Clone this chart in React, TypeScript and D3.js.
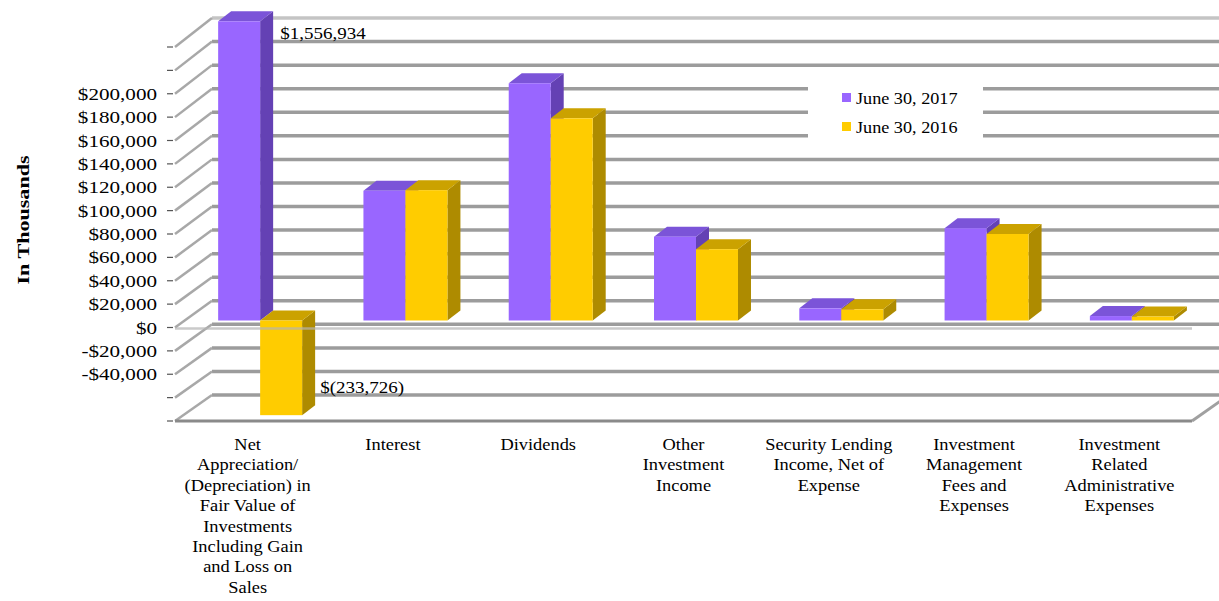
import React from "react";
import * as d3 from "d3";

const categories: string[][] = [
  ["Net", "Appreciation/", "(Depreciation) in", "Fair Value of", "Investments", "Including Gain", "and Loss on", "Sales"],
  ["Interest"],
  ["Dividends"],
  ["Other", "Investment", "Income"],
  ["Security Lending", "Income, Net of", "Expense"],
  ["Investment", "Management", "Fees and", "Expenses"],
  ["Investment", "Related", "Administrative", "Expenses"],
];
const seriesNames = ["June 30, 2017", "June 30, 2016"];
const values2017 = [1556934, 111000, 203000, 71700, 10400, 79000, 3800];
const values2016 = [-233726, 111500, 173000, 61000, 9600, 74000, 3400];
const tickValues = d3.range(-80000, 240001, 20000);
const labeledMin = -40000;
const labeledMax = 200000;
const barCap: [number, number] = [-81000, 256000];

const W = 1219;
const H = 601;
const FRONT_LEFT = 175;
const FRONT_RIGHT = 1192;
const WALL_DX = 37;
const WALL_DY_BOTTOM = -26;
const WALL_DY_TOP = -29;
const BAR_OFF_DX = 12.5;
const BAR_OFF_DY = -7;
const BAR_DX = 13;
const BAR_DY = -10;

const faceColors = [
  { front: "#9966FF", side: "#6441B4", top: "#7B54D8" },
  { front: "#FFCC00", side: "#AE8B00", top: "#CBA200" },
];

const fmt = (v: number) => (v < 0 ? "-$" : "$") + d3.format(",")(Math.abs(v));

export default function App() {
  const y = d3.scaleLinear().domain([-80000, 240000]).range([421, 47]);
  const wallDy = d3.scaleLinear().domain([-80000, 240000]).range([WALL_DY_BOTTOM, WALL_DY_TOP]);
  const x0 = d3
    .scaleBand<number>()
    .domain(categories.map((_, i) => i))
    .range([FRONT_LEFT, FRONT_RIGHT])
    .paddingInner(0)
    .paddingOuter(0);
  const x1 = d3
    .scaleBand<number>()
    .domain([0, 1])
    .range([0, x0.bandwidth()])
    .paddingInner(0)
    .paddingOuter(0.73);
  const seriesValues = [values2017, values2016];
  const clamp = (v: number) => Math.max(barCap[0], Math.min(barCap[1], v));

  const bars: JSX.Element[] = [];
  categories.forEach((_, ci) => {
    seriesValues.forEach((vals, si) => {
      const v = clamp(vals[ci]);
      const xl = (x0(ci) as number) + (x1(si) as number) + BAR_OFF_DX;
      const xr = xl + x1.bandwidth();
      const yv = y(v) + BAR_OFF_DY;
      const y0 = y(0) + BAR_OFF_DY;
      const yt = Math.min(yv, y0);
      const yb = Math.max(yv, y0);
      const c = faceColors[si];
      bars.push(
        <g key={`b${ci}-${si}`}>
          <polygon
            points={`${xr},${yt} ${xr + BAR_DX},${yt + BAR_DY} ${xr + BAR_DX},${yb + BAR_DY} ${xr},${yb}`}
            fill={c.side}
          />
          <polygon
            points={`${xl},${yt} ${xl + BAR_DX},${yt + BAR_DY} ${xr + BAR_DX},${yt + BAR_DY} ${xr},${yt}`}
            fill={c.top}
          />
          <rect x={xl} y={yt} width={xr - xl} height={yb - yt} fill={c.front} />
        </g>
      );
    });
  });

  const bigBarX = (x0(0) as number) + (x1(0) as number) + BAR_OFF_DX + x1.bandwidth() + BAR_DX;
  const negBarX = (x0(0) as number) + (x1(1) as number) + BAR_OFF_DX + x1.bandwidth() + BAR_DX;
  const floorY = y(-80000);

  return (
    <svg width={W} height={H} style={{ position: "absolute", left: 0, top: 0, background: "#fff" }}
      fontFamily="'Liberation Serif', 'Times New Roman', serif">
      {/* back wall gridlines and side wall diagonals */}
      {tickValues.map((t, i) => {
        const yf = y(t);
        const yb = yf + wallDy(t);
        const col = i === tickValues.length - 1 ? "#c4c4c4" : "#9c9c9c";
        return (
          <g key={`g${t}`}>
            <line x1={FRONT_LEFT + WALL_DX} x2={FRONT_RIGHT + WALL_DX} y1={yb} y2={yb} stroke={col} strokeWidth={3.5} />
            <line x1={FRONT_LEFT} y1={yf} x2={FRONT_LEFT + WALL_DX} y2={yb} stroke="#a8a8a8" strokeWidth={2.5} />
            <line x1={FRONT_LEFT - 8} x2={FRONT_LEFT - 2} y1={yf} y2={yf} stroke="#555" strokeWidth={1.2} />
          </g>
        );
      })}
      {/* floor front edge */}
      <line x1={FRONT_LEFT} x2={FRONT_RIGHT} y1={floorY} y2={floorY} stroke="#8a8a8a" strokeWidth={3} />
      <line x1={FRONT_RIGHT} y1={floorY} x2={FRONT_RIGHT + WALL_DX} y2={floorY + WALL_DY_BOTTOM} stroke="#a0a0a0" strokeWidth={3} />
      {bars}
      {/* zero line in front */}
      <line x1={FRONT_LEFT} x2={FRONT_RIGHT} y1={y(0) + 1} y2={y(0) + 1} stroke="#b5b5b5" strokeWidth={2.5} opacity={0.7} />

      {/* y tick labels */}
      {tickValues
        .filter((t) => t >= labeledMin && t <= labeledMax)
        .map((t) => (
          <text key={`t${t}`} transform={`translate(157,${y(t) + 6}) scale(1.28,1)`} textAnchor="end" fontSize={16.5} fill="#000">
            {fmt(t)}
          </text>
        ))}

      {/* axis title */}
      <text transform={`translate(29,220) rotate(-90) scale(1.3,1)`} textAnchor="middle" fontSize={17} fontWeight="bold" fill="#000">
        In Thousands
      </text>

      {/* category labels */}
      {categories.map((lines, ci) => (
        <g key={`c${ci}`}>
          {lines.map((ln, li) => (
            <text key={li} transform={`translate(${(x0(ci) as number) + x0.bandwidth() / 2},${450 + li * 20.4}) scale(1.15,1)`}
              textAnchor="middle" fontSize={16} fill="#000">
              {ln}
            </text>
          ))}
        </g>
      ))}

      {/* data labels */}
      <text transform={`translate(${bigBarX + 7},39) scale(1.12,1)`} fontSize={17} fill="#000">
        {"$" + d3.format(",")(values2017[0])}
      </text>
      <text transform={`translate(${negBarX + 5},393) scale(1.12,1)`} fontSize={17} fill="#000">
        {"$(" + d3.format(",")(Math.abs(values2016[0])) + ")"}
      </text>

      {/* legend */}
      <rect x={808} y={70} width={175} height={82} fill="#fff" />
      {seriesNames.map((s, i) => (
        <g key={s}>
          <rect x={842} y={93 + i * 29} width={9} height={9} fill={faceColors[i].front} />
          <text transform={`translate(856,${104 + i * 29}) scale(1.07,1)`} fontSize={17} fill="#000">{s}</text>
        </g>
      ))}
    </svg>
  );
}
